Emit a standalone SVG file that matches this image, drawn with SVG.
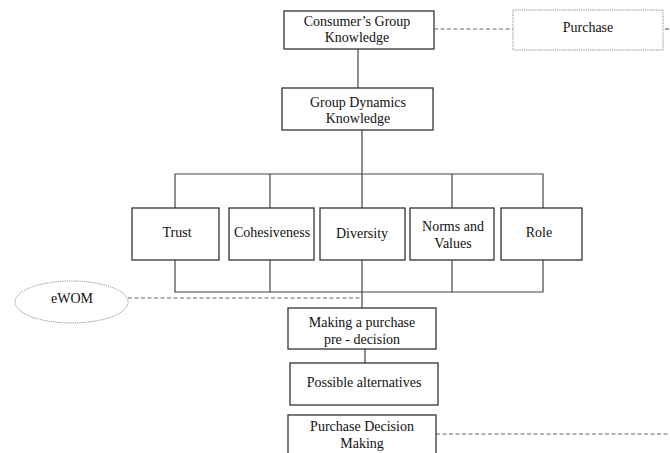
<svg xmlns="http://www.w3.org/2000/svg" width="670" height="453" viewBox="0 0 670 453">
<style>
.box{fill:#fff;stroke:#333;stroke-width:1.3}
.dot{fill:#fff;stroke:#888;stroke-width:1;stroke-dasharray:1.2 1}
.ln{fill:none;stroke:#444;stroke-width:1.2}
.dash{fill:none;stroke:#666;stroke-width:1.2;stroke-dasharray:4 2.5}
text{font-family:"Liberation Serif","Times New Roman",serif;font-size:14px;fill:#111;text-anchor:middle}
</style>
<rect width="670" height="453" fill="#fff"/>
<g id="connectors">
<line class="ln" x1="358" y1="49" x2="358" y2="88"/>
<line class="ln" x1="362" y1="130" x2="362" y2="174"/>
<polyline class="ln" points="175,208 175,174 543,174 543,208"/>
<line class="ln" x1="270" y1="174" x2="270" y2="208"/>
<line class="ln" x1="362" y1="174" x2="362" y2="208"/>
<line class="ln" x1="452" y1="174" x2="452" y2="208"/>
<polyline class="ln" points="175,260 175,292 543,292 543,260"/>
<line class="ln" x1="270" y1="260" x2="270" y2="292"/>
<line class="ln" x1="362" y1="260" x2="362" y2="308"/>
<line class="ln" x1="452" y1="260" x2="452" y2="292"/>
<line class="ln" x1="365" y1="349" x2="365" y2="363"/>
<line class="dash" x1="434" y1="29" x2="513" y2="29"/>
<line class="dash" x1="665" y1="29" x2="670" y2="29"/>
<line class="dash" x1="128" y1="298" x2="362" y2="298"/>
<line class="dash" x1="436" y1="434" x2="670" y2="434"/>
</g>
<g id="consumer">
<rect class="box" x="284" y="11" width="150" height="38"/>
<text x="357" y="26">Consumer’s Group</text>
<text x="357" y="42">Knowledge</text>
</g>
<g id="purchase">
<rect class="dot" x="513" y="10" width="150" height="40"/>
<text x="588" y="32">Purchase</text>
</g>
<g id="groupdynamics">
<rect class="box" x="282" y="88" width="151" height="42"/>
<text x="358" y="107">Group Dynamics</text>
<text x="358" y="123">Knowledge</text>
</g>
<g id="trust">
<rect class="box" x="132" y="208" width="87" height="52"/>
<text x="177" y="237">Trust</text>
</g>
<g id="cohesiveness">
<rect class="box" x="229" y="208" width="85" height="52"/>
<text x="272" y="237">Cohesiveness</text>
</g>
<g id="diversity">
<rect class="box" x="320" y="208" width="85" height="52"/>
<text x="362" y="238">Diversity</text>
</g>
<g id="norms">
<rect class="box" x="410" y="208" width="84" height="52"/>
<text x="453" y="231">Norms and</text>
<text x="453" y="248">Values</text>
</g>
<g id="role">
<rect class="box" x="501" y="208" width="81" height="52"/>
<text x="539" y="237">Role</text>
</g>
<g id="ewom">
<ellipse class="dot" cx="71.5" cy="302" rx="56.5" ry="21"/>
<text x="72" y="303">eWOM</text>
</g>
<g id="making">
<rect class="box" x="288" y="308" width="148" height="41"/>
<text x="362" y="327">Making a purchase</text>
<text x="362" y="344">pre -  decision</text>
</g>
<g id="alternatives">
<rect class="box" x="290" y="363" width="148" height="42"/>
<text x="364" y="387">Possible alternatives</text>
</g>
<g id="decision">
<rect class="box" x="288" y="415" width="148" height="50"/>
<text x="362" y="431">Purchase Decision</text>
<text x="362" y="448">Making</text>
</g>
</svg>
